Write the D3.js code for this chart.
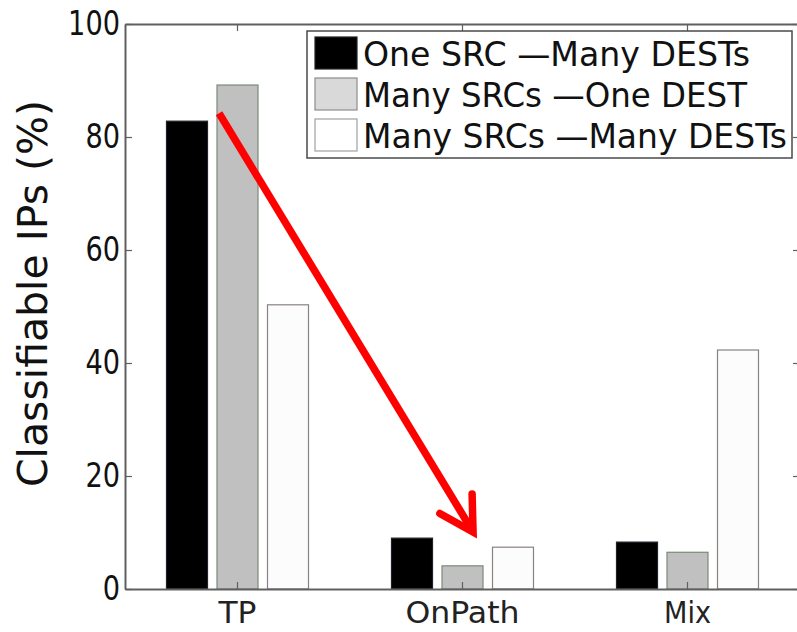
<!DOCTYPE html>
<html>
<head>
<meta charset="utf-8">
<script src="https://cdn.jsdelivr.net/npm/d3@7"></script>
<style>
  html, body { margin: 0; padding: 0; background: #fff; }
  svg { display: block; }
</style>
</head>
<body>
<svg id="chart" width="797" height="632"></svg>
<script>
// ---- data ----
const categories = ["TP", "OnPath", "Mix"];
const seriesNames = ["One SRC \u2014Many DESTs", "Many SRCs \u2014One DEST", "Many SRCs \u2014Many DESTs"];
const oneSrcManyDests = [82.8, 9.0, 8.3];
const manySrcsOneDest = [89.2, 4.1, 6.5];
const manySrcsManyDests = [50.3, 7.4, 42.3];
const yTicks = [0, 20, 40, 60, 80, 100];
const yLabel = "Classifiable IPs (%)";
// annotation arrow in data units (category index 1..3, percent)
const arrowFrom = [0.918, 84.2];
const arrowTo = [2.047, 10.1];

const seriesValues = [oneSrcManyDests, manySrcsOneDest, manySrcsManyDests];
const barFill = ["#000000", "#c0c0c0", "#fcfcfc"];
const barStroke = ["#20202a", "#7a8a7a", "#8a8282"];
const legendFill = ["#000000", "#d9d9d9", "#ffffff"];
const legendStroke = ["#222222", "#8c8c8c", "#a0a0a0"];

const svg = d3.select("#chart");
const pL = 125, pR = 800, pT = 24, pB = 589;

const x = d3.scaleBand().domain(categories).range([pL, pR]).padding(0);
const xNum = d3.scaleLinear().domain([0.5, 3.5]).range([pL, pR]);
const y = d3.scaleLinear().domain([0, 100]).range([pB, pT]);
const xSub = d3.scaleBand().domain(d3.range(3)).range([-71, 71]).paddingInner(0.188).paddingOuter(0);

// bars
const rows = [];
categories.forEach((c, ci) => seriesValues.forEach((vals, si) => rows.push({c, si, v: vals[ci]})));
svg.append("g").selectAll("rect").data(rows).join("rect")
  .attr("x", d => x(d.c) + x.bandwidth() / 2 + xSub(d.si))
  .attr("y", d => y(d.v))
  .attr("width", xSub.bandwidth())
  .attr("height", d => y(0) - y(d.v))
  .attr("fill", d => barFill[d.si])
  .attr("stroke", d => barStroke[d.si])
  .attr("stroke-width", 1.2);

// axes
const axisColor = "#606060";
const gL = svg.append("g").attr("transform", `translate(${pL},0)`)
  .call(d3.axisLeft(y).tickValues(yTicks).tickSizeInner(-7).tickSizeOuter(0).tickPadding(5));
const gR = svg.append("g").attr("transform", `translate(${pR},0)`)
  .call(d3.axisRight(y).tickValues(yTicks).tickSizeInner(-7).tickSizeOuter(0).tickFormat(""));
const gT = svg.append("g").attr("transform", `translate(0,${pT})`)
  .call(d3.axisTop(x).tickSizeInner(-7).tickSizeOuter(0).tickFormat(""));
const gB = svg.append("g").attr("transform", `translate(0,${pB})`)
  .call(d3.axisBottom(x).tickSizeInner(-7).tickSizeOuter(0).tickPadding(0));
[gL, gR, gT, gB].forEach(g => {
  g.select(".domain").attr("stroke", axisColor).attr("stroke-width", 2);
  g.selectAll(".tick line").attr("stroke", axisColor).attr("stroke-width", 1.2);
});
gL.selectAll(".tick text")
  .attr("font-family", "DejaVu Sans, sans-serif").attr("font-size", 34).attr("fill", "#111")
  .attr("textLength", d => String(d).length * 17.3).attr("lengthAdjust", "spacingAndGlyphs");
const xLabelWidths = {"TP": 38, "OnPath": 114, "Mix": 47};
gB.selectAll(".tick text")
  .attr("y", 34).attr("dy", null)
  .attr("font-family", "DejaVu Sans, sans-serif").attr("font-size", 30).attr("fill", "#222")
  .attr("textLength", d => xLabelWidths[d]).attr("lengthAdjust", "spacingAndGlyphs");

// y label
svg.append("text")
  .attr("transform", `translate(47,${(100 + 487) / 2}) rotate(-90)`)
  .attr("text-anchor", "middle")
  .attr("font-family", "DejaVu Sans, sans-serif").attr("font-size", 40).attr("fill", "#111")
  .attr("textLength", 387).attr("lengthAdjust", "spacingAndGlyphs")
  .text(yLabel);

// legend
const lg = svg.append("g");
lg.append("rect").attr("x", 307).attr("y", 31).attr("width", 485).attr("height", 127)
  .attr("fill", "#fff").attr("stroke", "#4a4a4a").attr("stroke-width", 1.5);
const legendTextWidths = [387, 384, 424];
seriesNames.forEach((name, i) => {
  const yy = 37 + i * 41;
  lg.append("rect").attr("x", 315).attr("y", yy).attr("width", 42).attr("height", 32)
    .attr("fill", legendFill[i]).attr("stroke", legendStroke[i]).attr("stroke-width", 1.2);
  lg.append("text").attr("x", 363).attr("y", yy + 29)
    .attr("font-family", "DejaVu Sans, sans-serif").attr("font-size", 33).attr("fill", "#111")
    .attr("textLength", legendTextWidths[i]).attr("lengthAdjust", "spacingAndGlyphs")
    .text(name);
});

// red arrow annotation
const x0 = xNum(arrowFrom[0]), y0 = y(arrowFrom[1]);
const x1 = xNum(arrowTo[0]), y1 = y(arrowTo[1]);
const ang = Math.atan2(y1 - y0, x1 - x0);
const headLen = 38, headAng = 0.52;
const ax = svg.append("g").attr("stroke", "#ff0000").attr("stroke-width", 7.5)
  .attr("stroke-linecap", "round").attr("stroke-linejoin", "miter").attr("fill", "none");
ax.append("line").attr("x1", x0).attr("y1", y0).attr("x2", x1 - 3 * Math.cos(ang)).attr("y2", y1 - 3 * Math.sin(ang))
  .attr("stroke-linecap", "butt");
ax.append("path").attr("d", d3.line()([
  [x1 - headLen * Math.cos(ang - headAng), y1 - headLen * Math.sin(ang - headAng)],
  [x1, y1],
  [x1 - headLen * Math.cos(ang + headAng), y1 - headLen * Math.sin(ang + headAng)]
]));
</script>
</body>
</html>
